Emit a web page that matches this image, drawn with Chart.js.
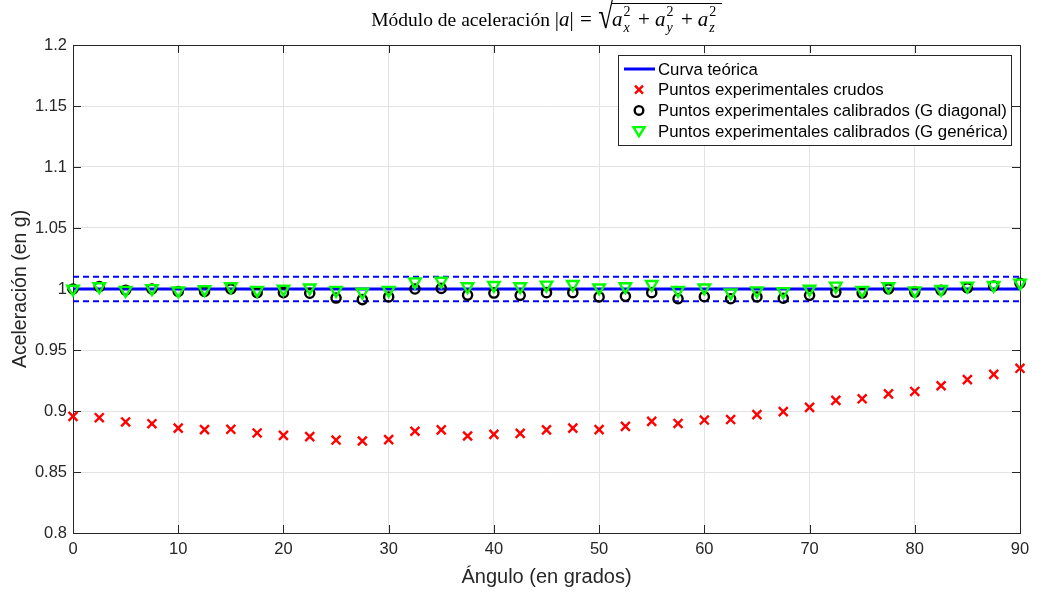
<!DOCTYPE html>
<html>
<head>
<meta charset="utf-8">
<script src="https://cdn.jsdelivr.net/npm/chart.js@4.4.1/dist/chart.umd.min.js"></script>
<style>
  body { margin: 0; background: #fff; }
  #wrap { position: relative; width: 1041px; height: 595px; }
  #ttl {
    position: absolute; left: 73px; top: 5px; width: 947px;
    text-align: center; font-family: "Liberation Serif", serif; font-size: 19.5px;
    line-height: 24px; color: #000; white-space: nowrap;
  }
  #ttl .mth { font-size: 21px; }
  #ttl .ss { display: inline-block; position: relative; width: 0.5em; height: 0.7em; }
  #ttl .ss span { position: absolute; left: 1px; font-size: 14px; line-height: 13px; }
  #ttl .ss .up { top: -6px; font-style: normal; }
  #ttl .ss .dn { top: 10px; font-style: italic; }
  #ttl .op { margin: 0 0.24em; }
  #ttl .eq { margin: 0 0.3em; }
  #ttl .sq { font-size: 27px; display: inline-block; transform: scaleY(1.35); transform-origin: 50% 65%; margin-right: -1px; }
  #ttl .rad { border-top: 1px solid #000; padding-top: 3px; padding-right: 3px; }
</style>
</head>
<body>
<div id="wrap">
  <canvas id="chart" width="1041" height="595"></canvas>
  <div id="ttl">Módulo de aceleración <span class="mth">|<i>a</i>|<span class="eq">=</span><span class="sq">√</span><span class="rad"><i>a</i><span class="ss"><span class="up">2</span><span class="dn">x</span></span><span class="op">+</span><i>a</i><span class="ss"><span class="up">2</span><span class="dn">y</span></span><span class="op">+</span><i>a</i><span class="ss"><span class="up">2</span><span class="dn">z</span></span></span></span></div>
</div>
<script>
// angulos medidos (grados)
var angles = [0, 2.5, 5, 7.5, 10, 12.5, 15, 17.5, 20, 22.5, 25, 27.5, 30, 32.5, 35, 37.5,
  40, 42.5, 45, 47.5, 50, 52.5, 55, 57.5, 60, 62.5, 65, 67.5, 70, 72.5, 75, 77.5,
  80, 82.5, 85, 87.5, 90];

// modulo con datos crudos
var rawVals = [0.8956, 0.8945, 0.891, 0.8896, 0.886, 0.8847, 0.885, 0.882, 0.880, 0.879,
  0.8762, 0.8754, 0.8765, 0.8834, 0.8845, 0.8795, 0.8808, 0.8817, 0.8845, 0.886, 0.8847,
  0.8874, 0.8915, 0.8898, 0.8926, 0.893, 0.897, 0.8995, 0.903, 0.9087, 0.910, 0.914,
  0.916, 0.9207, 0.9257, 0.930, 0.935];

// calibrado con G diagonal
var diagVals = [1.000, 1.002, 0.999, 1.000, 0.998, 0.998, 1.000, 0.997, 0.997, 0.9965,
  0.9926, 0.9913, 0.9935, 1.000, 1.0005, 0.995, 0.9967, 0.9948, 0.997, 0.997, 0.9935,
  0.994, 0.997, 0.992, 0.9937, 0.992, 0.9935, 0.9924, 0.9948, 0.9973, 0.9967, 1.000,
  0.9975, 0.999, 1.001, 1.0025, 1.0047];

// calibrado con G generica
var genVals = [1.000, 1.002, 0.999, 1.0005, 0.9985, 0.9995, 1.002, 0.999, 1.000, 1.001,
  0.999, 0.9975, 0.999, 1.006, 1.0065, 1.002, 1.003, 1.002, 1.0033, 1.0038, 1.001,
  1.002, 1.0038, 0.999, 1.001, 0.997, 0.9986, 0.998, 1.000, 1.0025, 0.999, 1.002,
  0.9986, 0.9997, 1.0025, 1.003, 1.005];

// curva teorica y banda de +-1%
var theoryX = [0, 90];
var theoryY = [1, 1];
var bandUp = [1.01, 1.01];
var bandDown = [0.99, 0.99];

var xTicks = [0, 10, 20, 30, 40, 50, 60, 70, 80, 90];
var yTicks = [0.8, 0.85, 0.9, 0.95, 1, 1.05, 1.1, 1.15, 1.2];

var axisColor = '#262626';
var fontName = "'Liberation Sans', Arial, sans-serif";

function pts(xs, ys) {
  return xs.map(function (x, i) { return {x: x, y: ys[i]}; });
}

// marco, ticks interiores
var framePlugin = {
  id: 'frame',
  beforeDatasetsDraw: function (chart) {
    var ctx = chart.ctx, a = chart.chartArea;
    var sx = chart.scales.x, sy = chart.scales.y;
    ctx.save();
    ctx.strokeStyle = axisColor;
    ctx.lineWidth = 1;
    ctx.beginPath();
    xTicks.forEach(function (v) {
      var px = Math.round(sx.getPixelForValue(v)) + 0.5;
      ctx.moveTo(px, a.bottom); ctx.lineTo(px, a.bottom - 8);
      ctx.moveTo(px, a.top); ctx.lineTo(px, a.top + 8);
    });
    yTicks.forEach(function (v) {
      var py = Math.round(sy.getPixelForValue(v)) + 0.5;
      ctx.moveTo(a.left, py); ctx.lineTo(a.left + 8, py);
      ctx.moveTo(a.right, py); ctx.lineTo(a.right - 8, py);
    });
    ctx.stroke();
    ctx.strokeRect(Math.round(a.left) + 0.5, Math.round(a.top) + 0.5,
      Math.round(a.right - a.left), Math.round(a.bottom - a.top));
    ctx.restore();
  }
};

// leyenda dentro del area
var legendPlugin = {
  id: 'boxLegend',
  afterDraw: function (chart) {
    var ctx = chart.ctx;
    var bx = 618, by = 55, bw = 393, bh = 90;
    ctx.save();
    ctx.fillStyle = '#fff';
    ctx.fillRect(bx, by, bw, bh);
    ctx.strokeStyle = axisColor;
    ctx.lineWidth = 1;
    ctx.strokeRect(bx + 0.5, by + 0.5, bw, bh);
    ctx.font = '16.8px ' + fontName;
    ctx.textBaseline = 'middle';
    ctx.fillStyle = '#000';
    var row = 0;
    chart.data.datasets.forEach(function (ds) {
      if (!ds.inLegend) return;
      var cy = by + 14 + row * 20.7;
      var cx = 639;
      ctx.save();
      ctx.strokeStyle = ds.borderColor;
      ctx.lineWidth = ds.showLine ? ds.borderWidth : 2.4;
      ctx.beginPath();
      if (ds.showLine) {
        ctx.moveTo(624, cy); ctx.lineTo(655, cy);
      } else if (ds.pointStyle === 'crossRot') {
        ctx.moveTo(cx - 4, cy - 4); ctx.lineTo(cx + 4, cy + 4);
        ctx.moveTo(cx + 4, cy - 4); ctx.lineTo(cx - 4, cy + 4);
      } else if (ds.pointStyle === 'circle') {
        ctx.arc(cx, cy, 4.3, 0, Math.PI * 2);
      } else {
        ctx.moveTo(cx - 5.5, cy - 4); ctx.lineTo(cx + 5.5, cy - 4); ctx.lineTo(cx, cy + 5);
        ctx.closePath();
      }
      ctx.stroke();
      ctx.restore();
      ctx.fillText(ds.label, 658, cy + 1);
      row++;
    });
    ctx.restore();
  }
};

new Chart(document.getElementById('chart').getContext('2d'), {
  type: 'scatter',
  data: {
    datasets: [
      {
        label: 'Curva teórica', inLegend: true,
        data: pts(theoryX, theoryY), showLine: true,
        borderColor: '#0000ff', borderWidth: 3, pointRadius: 0, order: 3
      },
      {
        label: '+1%', data: pts(theoryX, bandUp), showLine: true,
        borderColor: '#0000ff', borderWidth: 2, borderDash: [6, 4], pointRadius: 0, order: 4
      },
      {
        label: '-1%', data: pts(theoryX, bandDown), showLine: true,
        borderColor: '#0000ff', borderWidth: 2, borderDash: [6, 4], pointRadius: 0, order: 4
      },
      {
        label: 'Puntos experimentales crudos', inLegend: true,
        data: pts(angles, rawVals), pointStyle: 'crossRot', pointRadius: 6.3,
        borderColor: '#ff0000', borderWidth: 2.4, order: 2
      },
      {
        label: 'Puntos experimentales calibrados (G diagonal)', inLegend: true,
        data: pts(angles, diagVals), pointStyle: 'circle', pointRadius: 4.6,
        borderColor: '#000000', backgroundColor: 'rgba(0,0,0,0)', borderWidth: 2.4, order: 1
      },
      {
        label: 'Puntos experimentales calibrados (G genérica)', inLegend: true,
        data: pts(angles, genVals), pointStyle: 'triangle', rotation: 180, pointRadius: 6.6,
        borderColor: '#00ff00', backgroundColor: 'rgba(0,0,0,0)', borderWidth: 2.4, order: 0
      }
    ]
  },
  options: {
    responsive: false,
    animation: false,
    devicePixelRatio: 1,
    clip: false,
    layout: {padding: {top: 45, right: 21, left: 0, bottom: 0}},
    plugins: {
      legend: {display: false},
      tooltip: {enabled: false}
    },
    scales: {
      x: {
        type: 'linear', min: 0, max: 90,
        afterFit: function (s) { s.height = 62; },
        afterBuildTicks: function (s) { s.ticks = xTicks.map(function (v) { return {value: v}; }); },
        grid: {color: '#e3e3e3', drawTicks: false},
        border: {display: false},
        ticks: {
          color: axisColor, font: {family: fontName, size: 16.5}, padding: 7,
          maxRotation: 0, autoSkip: false
        },
        title: {
          display: true, text: 'Ángulo (en grados)', color: axisColor,
          font: {family: fontName, size: 20}, padding: {top: 0, bottom: 6}
        }
      },
      y: {
        type: 'linear', min: 0.8, max: 1.2,
        afterFit: function (s) { s.width = 73; },
        afterBuildTicks: function (s) { s.ticks = yTicks.map(function (v) { return {value: v}; }); },
        grid: {color: '#e3e3e3', drawTicks: false},
        border: {display: false},
        ticks: {
          color: axisColor, font: {family: fontName, size: 16.5}, padding: 6,
          autoSkip: false,
          callback: function (v) { return String(+v.toFixed(2)); }
        },
        title: {
          display: true, text: 'Aceleración (en g)', color: axisColor,
          font: {family: fontName, size: 19.5}, padding: {top: 9, bottom: 0}
        }
      }
    }
  },
  plugins: [framePlugin, legendPlugin]
});
</script>
</body>
</html>
